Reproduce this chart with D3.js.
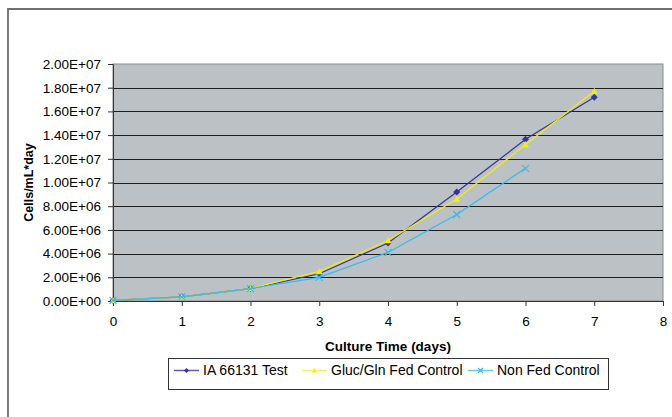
<!DOCTYPE html>
<html>
<head>
<meta charset="utf-8">
<script src="https://cdn.jsdelivr.net/npm/d3@7"></script>
<style>
  body { margin: 0; background: #fff; }
  svg { display: block; font-family: "Liberation Sans", Arial, sans-serif; }
</style>
</head>
<body>
<div id="chart"></div>
<script>
// données
const days = [0, 1, 2, 3, 4, 5, 6, 7];
const iaTest = [0.05e6, 0.35e6, 1.05e6, 2.3e6, 4.9e6, 9.2e6, 13.65e6, 17.2e6];
const glucFed = [0.05e6, 0.35e6, 1.05e6, 2.5e6, 5.1e6, 8.6e6, 13.2e6, 17.7e6];
const nonFed = [0.05e6, 0.35e6, 1.05e6, 2.0e6, 4.1e6, 7.3e6, 11.2e6];
const seriesNames = ["IA 66131 Test", "Gluc/Gln Fed Control", "Non Fed Control"];
const yTicks = [0, 2e6, 4e6, 6e6, 8e6, 10e6, 12e6, 14e6, 16e6, 18e6, 20e6];
const xTicks = [0, 1, 2, 3, 4, 5, 6, 7, 8];

const width = 672, height = 417;
const plot = { left: 113, right: 663, top: 64, bottom: 301 };

const series = [
    { name: seriesNames[0], values: iaTest, color: "#333399", legendColor: "#5c5cb0", marker: "diamond" },
    { name: seriesNames[1], values: glucFed, color: "#f5ee00", legendColor: "#f7f060", marker: "triangle" },
    { name: seriesNames[2], values: nonFed, color: "#33bbee", legendColor: "#66ccf2", marker: "cross" }
];

const svg = d3.select("#chart").append("svg")
    .attr("width", width).attr("height", height);

// cadre extérieur (coupé à droite et en bas)
svg.append("path")
    .attr("d", `M8,${height + 5} L8,9 L${width + 5},9`)
    .attr("fill", "none")
    .attr("stroke", "#6f6f6f")
    .attr("stroke-width", 1.8);

const x = d3.scaleLinear().domain([0, 8]).range([plot.left, plot.right]);
const y = d3.scaleLinear().domain([0, 2e7]).range([plot.bottom, plot.top]);

// fond de la zone de tracé
svg.append("rect")
    .attr("x", plot.left).attr("y", plot.top)
    .attr("width", plot.right - plot.left)
    .attr("height", plot.bottom - plot.top)
    .attr("fill", "#bcc1c6")
    .attr("stroke", "#8a8a8a")
    .attr("stroke-width", 1);

// lignes de grille
svg.append("g")
    .selectAll("line")
    .data(yTicks.filter(d => d > 0 && d < 2e7))
    .enter().append("line")
    .attr("x1", plot.left).attr("x2", plot.right)
    .attr("y1", d => Math.round(y(d)) + 0.5)
    .attr("y2", d => Math.round(y(d)) + 0.5)
    .attr("stroke", "#1e1e1e")
    .attr("stroke-width", 1.2);

// axes
const fmt = d => d.toExponential(2).toUpperCase().replace(/E([+-])(\d)$/, "E$10$2");

const yAxis = svg.append("g")
    .attr("transform", `translate(${plot.left},0)`)
    .call(d3.axisLeft(y).tickValues(yTicks).tickFormat(fmt).tickSize(5).tickPadding(7));

const xAxis = svg.append("g")
    .attr("transform", `translate(0,${plot.bottom})`)
    .call(d3.axisBottom(x).tickValues(xTicks).tickFormat(d3.format("d")).tickSize(5).tickPadding(10));

[yAxis, xAxis].forEach(a => {
    a.select(".domain").attr("stroke", "#333");
    a.selectAll(".tick line").attr("stroke", "#333");
    a.selectAll(".tick text")
        .attr("fill", "#000")
        .style("font-size", "13.5px")
        .style("font-family", "Liberation Sans, Arial, sans-serif");
});

// titres des axes
svg.append("text")
    .attr("transform", `translate(33,${(plot.top + plot.bottom) / 2}) rotate(-90)`)
    .attr("text-anchor", "middle")
    .style("font-size", "12.5px")
    .style("font-weight", "bold")
    .text("Cells/mL*day");

svg.append("text")
    .attr("x", (plot.left + plot.right) / 2)
    .attr("y", 351)
    .attr("text-anchor", "middle")
    .style("font-size", "13.5px")
    .style("font-weight", "bold")
    .text("Culture Time (days)");

// marqueurs
function drawMarker(g, type, color, cx, cy, s) {
    if (type === "diamond") {
        g.append("path")
            .attr("d", `M${cx},${cy - s} L${cx + s},${cy} L${cx},${cy + s} L${cx - s},${cy} Z`)
            .attr("fill", color);
    } else if (type === "triangle") {
        g.append("path")
            .attr("d", `M${cx},${cy - s} L${cx + s},${cy + s * 0.8} L${cx - s},${cy + s * 0.8} Z`)
            .attr("fill", color);
    } else {
        g.append("path")
            .attr("d", `M${cx - s},${cy - s} L${cx + s},${cy + s} M${cx - s},${cy + s} L${cx + s},${cy - s}`)
            .attr("stroke", color)
            .attr("stroke-width", 1.1);
    }
}

const line = d3.line()
    .x((d, i) => x(days[i]))
    .y(d => y(d));

series.forEach(s => {
    const g = svg.append("g");
    g.append("path")
        .datum(s.values)
        .attr("d", line)
        .attr("fill", "none")
        .attr("stroke", s.color)
        .attr("stroke-width", 1.2);
    s.values.forEach((v, i) => drawMarker(g, s.marker, s.color, x(days[i]), y(v), 3.5));
});

// légende
const legend = svg.append("g");
legend.append("rect")
    .attr("x", 168.5).attr("y", 358.5)
    .attr("width", 440).attr("height", 31)
    .attr("fill", "#fff")
    .attr("stroke", "#333")
    .attr("stroke-width", 1);

const legendX = [174, 302, 468];
series.forEach((s, i) => {
    const lx = legendX[i], ly = 370.5;
    legend.append("line")
        .attr("x1", lx).attr("x2", lx + 25)
        .attr("y1", ly).attr("y2", ly)
        .attr("stroke", s.legendColor)
        .attr("stroke-width", 1.5);
    drawMarker(legend, s.marker, s.color, lx + 12.5, ly, 2.5);
    legend.append("text")
        .attr("x", lx + 29)
        .attr("y", 375)
        .style("font-size", "14px")
        .text(s.name);
});
</script>
</body>
</html>
